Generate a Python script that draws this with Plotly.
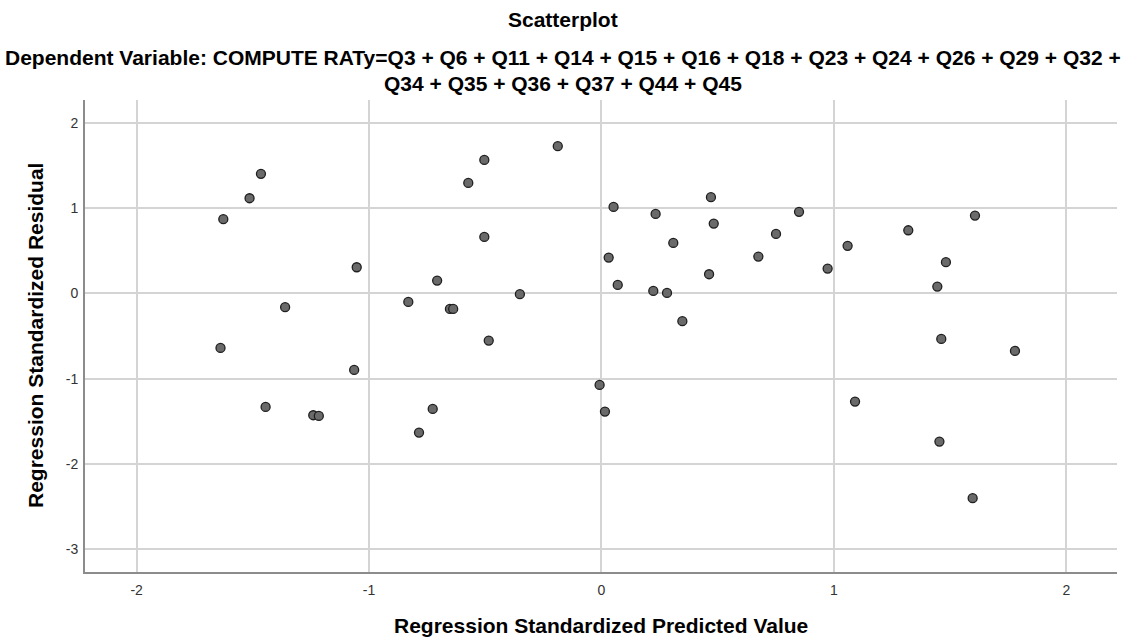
import plotly.graph_objects as go

# Regression diagnostics: standardized predicted value vs. standardized residual
predicted = [
    -1.627, -1.514, -1.465, -1.053, -1.361, -1.639, -1.064, -1.445, -1.240, -1.216,
    -0.188, -0.504, -0.573, -0.504, -0.707, -0.831, -0.652, -0.638, -0.351, -0.485,
    -0.008, 0.052, 0.233, 0.471, 0.483, 0.751, 0.309, 0.031, 0.675, 0.463,
    0.070, 0.223, 0.282, 0.348, 0.015, -0.726, -0.785, 0.850, 0.973, 1.059,
    1.320, 1.607, 1.482, 1.445, 1.462, 1.779, 1.091, 1.454, 1.597,
]
residual = [
    0.871, 1.117, 1.403, 0.307, -0.162, -0.640, -0.898, -1.332, -1.430, -1.438,
    1.728, 1.567, 1.297, 0.663, 0.150, -0.100, -0.182, -0.182, -0.009, -0.554,
    -1.074, 1.015, 0.933, 1.129, 0.819, 0.698, 0.593, 0.420, 0.432, 0.225,
    0.100, 0.029, 0.006, -0.326, -1.387, -1.356, -1.634, 0.957, 0.291, 0.558,
    0.741, 0.913, 0.366, 0.080, -0.534, -0.675, -1.270, -1.739, -2.404,
]

x_ticks = [-2, -1, 0, 1, 2]
y_ticks = [-3, -2, -1, 0, 1, 2]

title_text = "Scatterplot"
subtitle_lines = [
    "Dependent Variable: COMPUTE RATy=Q3 + Q6 + Q11 + Q14 + Q15 + Q16 + Q18 + Q23 + Q24 + Q26 + Q29 + Q32 +",
    "Q34 + Q35 + Q36 + Q37 + Q44 + Q45",
]
x_title = "Regression Standardized Predicted Value"
y_title = "Regression Standardized Residual"

W, H = 1126, 639
M_L, M_R, M_T, M_B = 85, 9, 100, 67
plot_w = W - M_L - M_R

font_family = "Liberation Sans, Arial, sans-serif"
title_font = dict(family=font_family, size=21, color="#000000")

fig = go.Figure()
fig.add_trace(go.Scatter(
    x=predicted,
    y=residual,
    mode="markers",
    marker=dict(size=9, color="#6a6a6a", line=dict(color="#1f1f1f", width=1.3)),
    hoverinfo="x+y",
    showlegend=False,
))

# Titles centred on the page rather than on the plot area
page_center = (W / 2 - M_L) / plot_w
fig.add_annotation(
    text="<b>" + title_text + "</b>", xref="paper", yref="paper",
    x=page_center, y=1, yshift=81, xanchor="center", yanchor="middle",
    showarrow=False, font=title_font,
)
for line, shift in zip(subtitle_lines, [43, 17]):
    fig.add_annotation(
        text="<b>" + line + "</b>", xref="paper", yref="paper",
        x=page_center, y=1, yshift=shift, xanchor="center", yanchor="middle",
        showarrow=False, font=title_font,
    )

# Axis titles
fig.add_annotation(
    text="<b>" + x_title + "</b>", xref="paper", yref="paper",
    x=0.5, y=0, yshift=-53, xanchor="center", yanchor="middle",
    showarrow=False, font=title_font,
)
fig.add_annotation(
    text="<b>" + y_title + "</b>", xref="paper", yref="paper",
    x=0, y=0.5, xshift=-50, xanchor="center", yanchor="middle",
    textangle=-90, showarrow=False, font=title_font,
)

axis_common = dict(
    showgrid=True, gridcolor="#d4d4d4", gridwidth=2,
    zeroline=False,
    showline=True, linecolor="#8c8c8c", linewidth=2,
    ticks="", tickfont=dict(family=font_family, size=14, color="#333333"),
    mirror=False,
)

fig.update_xaxes(
    range=[-2.222, 2.218], tickvals=x_ticks, ticktext=[str(v) for v in x_ticks],
    ticklabelstandoff=4, **axis_common,
)
fig.update_yaxes(
    range=[-3.27, 2.27], tickvals=y_ticks, ticktext=[str(v) for v in y_ticks],
    ticklabelstandoff=2, **axis_common,
)

fig.update_layout(
    width=W, height=H,
    margin=dict(l=M_L, r=M_R, t=M_T, b=M_B),
    paper_bgcolor="#ffffff", plot_bgcolor="#ffffff",
)

fig.write_html("out.html")
